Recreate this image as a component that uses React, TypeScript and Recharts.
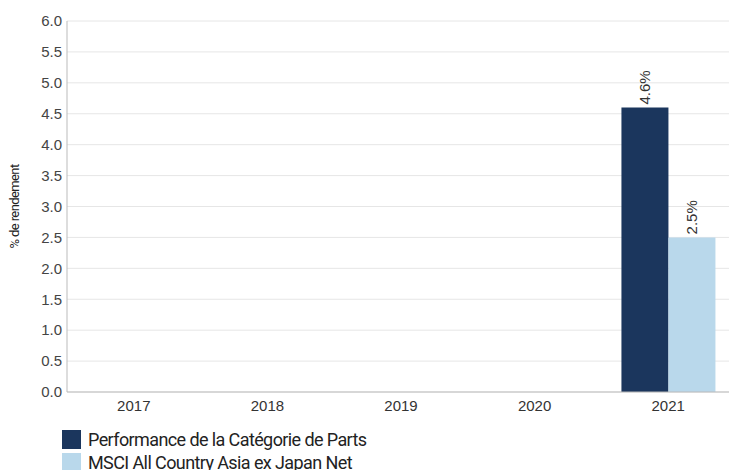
import * as React from 'react';
import { Bar, BarChart, CartesianGrid, LabelList, Legend, XAxis, YAxis } from 'recharts';

const years = ['2017', '2018', '2019', '2020', '2021'];
const shareClass = [null, null, null, null, 4.6];
const benchmark = [null, null, null, null, 2.5];
const yTicks = [0, 0.5, 1, 1.5, 2, 2.5, 3, 3.5, 4, 4.5, 5, 5.5, 6];

const series = [
  { key: 'shareClass', name: 'Performance de la Catégorie de Parts', color: '#1b365d' },
  { key: 'benchmark', name: 'MSCI All Country Asia ex Japan Net', color: '#b9d8eb' },
];

const data = years.map((year, i) => ({
  year,
  shareClass: shareClass[i],
  benchmark: benchmark[i],
}));

const sans = '"Liberation Sans", Arial, sans-serif';
const narrow = 'Roboto, "Liberation Sans Narrow", sans-serif';

function RotatedLabel(props: any) {
  const { x, y, width, value } = props;
  if (value == null) return null;
  const cx = x + width / 2 + 5;
  const ty = y - 3;
  return (
    <text
      x={cx}
      y={ty}
      transform={`rotate(-90, ${cx}, ${ty})`}
      textAnchor="start"
      fontSize={15}
      fontFamily={sans}
      fill="#333"
    >
      {`${value.toFixed(1)}%`}
    </text>
  );
}

function LegendBox() {
  return (
    <div style={{ fontFamily: narrow, fontSize: 18, letterSpacing: -0.6, color: '#222' }}>
      {series.map((s) => (
        <div key={s.key} style={{ display: 'flex', alignItems: 'center', height: 22, marginBottom: 1 }}>
          <span style={{ width: 19, height: 19, background: s.color, display: 'inline-block', marginRight: 7 }} />
          <span>{s.name}</span>
        </div>
      ))}
    </div>
  );
}

export default function App() {
  return (
    <div style={{ position: 'absolute', left: 0, top: 0, width: 729, height: 470, background: '#fff' }}>
      <BarChart
        width={729}
        height={470}
        data={data}
        margin={{ top: 21, right: -6, left: 0, bottom: 2 }}
        barCategoryGap="15%"
        barGap={0}
      >
        <CartesianGrid vertical={false} stroke="#e6e6e6" />
        <XAxis
          dataKey="year"
          height={30}
          tick={{ fontSize: 15, fill: '#333', fontFamily: sans }}
          tickLine={false}
          axisLine={{ stroke: '#bbb' }}
        />
        <YAxis
          width={67}
          domain={[0, 6]}
          ticks={yTicks}
          interval={0}
          tickFormatter={(v: number) => v.toFixed(1)}
          tick={{ fontSize: 15, fill: '#444', fontFamily: sans, dx: 3 }}
          tickLine={false}
          axisLine={{ stroke: '#bbb' }}
          label={{
            value: '% de rendement',
            angle: -90,
            position: 'insideLeft',
            offset: 14,
            style: { textAnchor: 'middle', fontSize: 13, fill: '#222', fontFamily: narrow, letterSpacing: -0.6 },
          }}
        />
        <Legend
          verticalAlign="bottom"
          align="left"
          content={() => <LegendBox />}
          wrapperStyle={{ position: 'absolute', left: 62, top: 428, width: 500, height: 46 }}
        />
        {series.map((s) => (
          <Bar key={s.key} dataKey={s.key} name={s.name} fill={s.color} isAnimationActive={false}>
            <LabelList dataKey={s.key} content={RotatedLabel} />
          </Bar>
        ))}
      </BarChart>
    </div>
  );
}
